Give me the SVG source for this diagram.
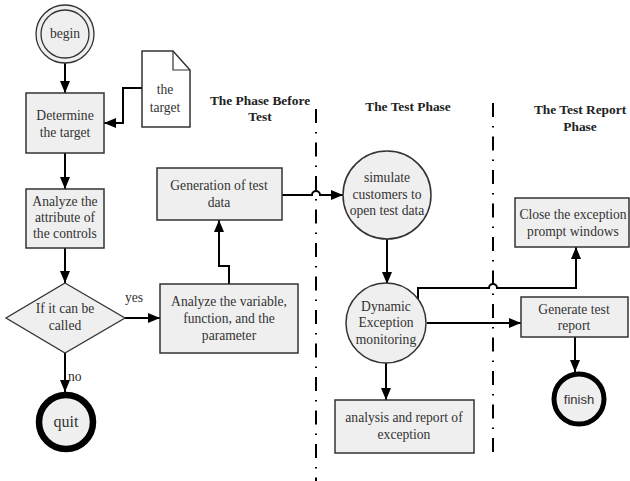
<svg xmlns="http://www.w3.org/2000/svg" width="630" height="481" viewBox="0 0 630 481">
<defs>
<marker id="arr" viewBox="0 0 12 10" refX="12" refY="5" markerWidth="12" markerHeight="10" markerUnits="userSpaceOnUse" orient="auto">
<path d="M0,0 L12,5 L0,10 z" fill="#000"/>
</marker>
<style>
.box{fill:#efefef;stroke:#333;stroke-width:1.5}
.t{font-family:"Liberation Serif","Times New Roman",serif;font-size:13.6px;fill:#333;text-anchor:middle}
.h{font-family:"Liberation Serif","Times New Roman",serif;font-size:13.4px;font-weight:bold;fill:#222;text-anchor:middle}
.c{fill:none;stroke:#000;stroke-width:2}
.a{marker-end:url(#arr)}
.dash{fill:none;stroke:#000;stroke-width:2;stroke-dasharray:14 9 1.5 9}
</style>
</defs>
<rect width="630" height="481" fill="#fff"/>

<g id="phases">
<line class="dash" x1="316" y1="109" x2="316" y2="481"/>
<line class="dash" x1="493" y1="103" x2="493" y2="456"/>
<text class="h" x="260" y="105">The Phase Before</text>
<text class="h" x="260" y="121">Test</text>
<text class="h" x="408" y="111">The Test Phase</text>
<text class="h" x="580" y="114">The Test Report</text>
<text class="h" x="580" y="131">Phase</text>
</g>

<g id="connectors">
<path class="c a" d="M65,63 V93"/>
<path class="c a" d="M142,88 H123 V123 H104"/>
<path class="c a" d="M65,153 V189"/>
<path class="c a" d="M65,248 V283"/>
<path class="c a" d="M125,318 H160"/>
<path class="c a" d="M65,353 V392"/>
<path class="c a" d="M229,284 V266 H219 V220"/>
<path class="c a" d="M282,195 H312 A4,4 0 0 1 320,195 H343"/>
<path class="c a" d="M387,239 V284"/>
<path class="c a" d="M386,363 V400"/>
<path class="c a" d="M418,299 V288 H489 A4,4 0 0 1 497,288 H576 V247"/>
<path class="c a" d="M427,323 H521"/>
<path class="c a" d="M575,337 V372"/>
<text class="t" x="134" y="302">yes</text>
<text class="t" x="68" y="381" style="text-anchor:start">no</text>
</g>

<g id="begin">
<circle cx="65" cy="34" r="29" fill="#efefef" stroke="#333" stroke-width="1.3"/>
<circle cx="65" cy="34" r="24" fill="#efefef" stroke="#333" stroke-width="1.3"/>
<text class="t" x="65" y="38">begin</text>
</g>

<g id="doc">
<path d="M142,51 H173 L190,70 V127 H142 Z" fill="#fff" stroke="#333" stroke-width="1.5"/>
<path d="M173,51 V70 H190" fill="none" stroke="#333" stroke-width="1.2"/>
<text class="t" x="165" y="94">the</text>
<text class="t" x="165" y="112">target</text>
</g>

<g id="determine">
<rect class="box" x="26" y="93" width="78" height="60"/>
<text class="t" x="65" y="120">Determine</text>
<text class="t" x="65" y="137">the target</text>
</g>

<g id="analyze">
<rect class="box" x="26" y="189" width="78" height="59"/>
<text class="t" x="65" y="206">Analyze the</text>
<text class="t" x="65" y="222">attribute of</text>
<text class="t" x="65" y="238">the controls</text>
</g>

<g id="decision">
<polygon points="65,283 125,318 65,353 6,318" fill="#efefef" stroke="#333" stroke-width="1.3"/>
<text class="t" x="65" y="313">If it can be</text>
<text class="t" x="65" y="330">called</text>
</g>

<g id="quit">
<circle cx="66" cy="422" r="27" fill="#efefef" stroke="#000" stroke-width="6.5"/>
<text class="t" x="66" y="427" style="font-size:16px">quit</text>
</g>

<g id="variable">
<rect class="box" x="160" y="284" width="138" height="69"/>
<text class="t" x="229" y="306">Analyze the variable,</text>
<text class="t" x="229" y="323">function, and the</text>
<text class="t" x="229" y="340">parameter</text>
</g>

<g id="generation">
<rect class="box" x="157" y="168" width="125" height="52"/>
<text class="t" x="219" y="190">Generation of test</text>
<text class="t" x="219" y="207">data</text>
</g>

<g id="simulate">
<circle cx="387" cy="195" r="44" fill="#efefef" stroke="#333" stroke-width="1.5"/>
<text class="t" x="387" y="182">simulate</text>
<text class="t" x="387" y="199">customers to</text>
<text class="t" x="387" y="215">open test data</text>
</g>

<g id="dynamic">
<circle cx="386" cy="323" r="40" fill="#efefef" stroke="#333" stroke-width="1.5"/>
<text class="t" x="386" y="311">Dynamic</text>
<text class="t" x="386" y="327">Exception</text>
<text class="t" x="386" y="344">monitoring</text>
</g>

<g id="analysis">
<rect class="box" x="335" y="400" width="139" height="53"/>
<text class="t" x="404" y="422">analysis and report of</text>
<text class="t" x="404" y="439">exception</text>
</g>

<g id="close">
<rect class="box" x="515" y="198" width="114" height="49"/>
<text class="t" x="573" y="219">Close the exception</text>
<text class="t" x="573" y="236">prompt windows</text>
</g>

<g id="generate">
<rect class="box" x="521" y="297" width="107" height="40"/>
<text class="t" x="574" y="314">Generate test</text>
<text class="t" x="574" y="330">report</text>
</g>

<g id="finish">
<circle cx="579" cy="399" r="25" fill="#efefef" stroke="#000" stroke-width="5"/>
<text x="579" y="404" style="font-family:'Liberation Sans',Arial,sans-serif;font-size:13px;fill:#333;text-anchor:middle">finish</text>
</g>
</svg>
